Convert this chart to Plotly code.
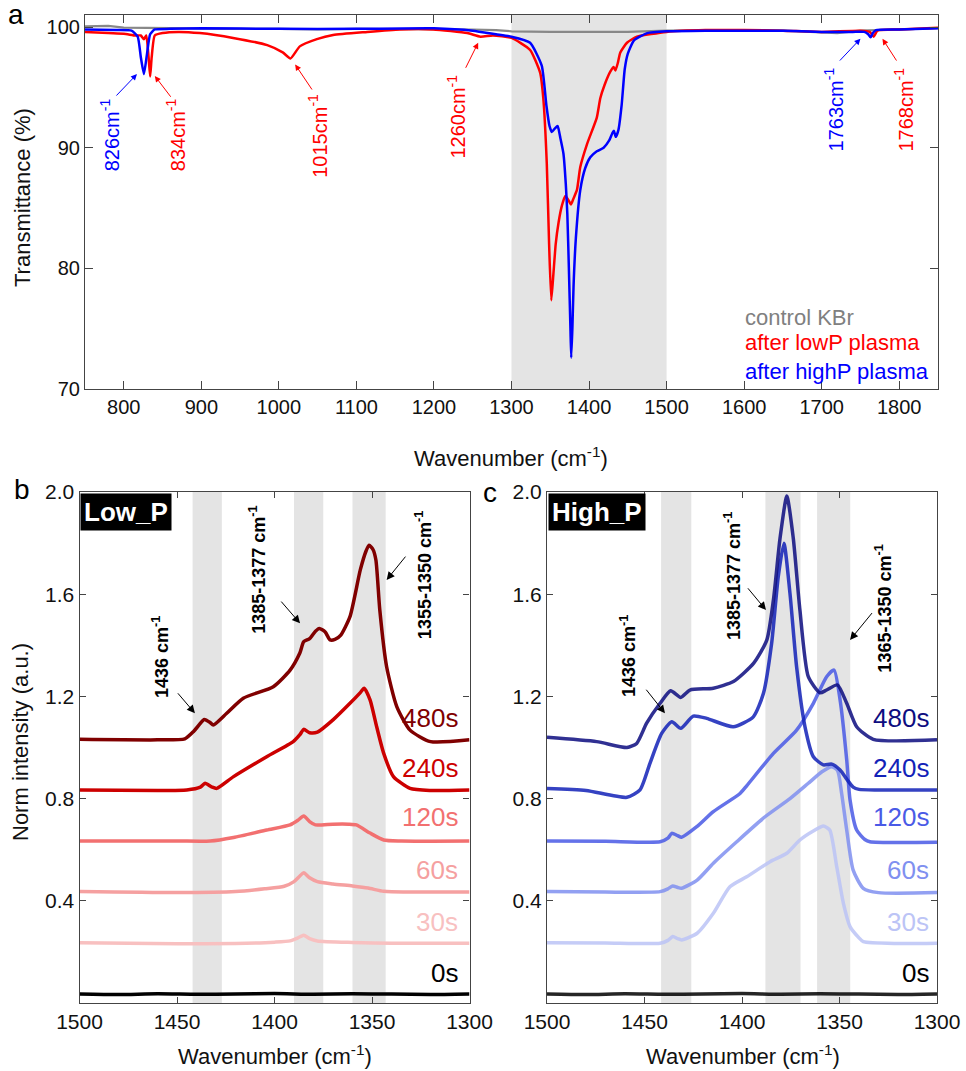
import plotly.graph_objects as go

# ---------------- Panel a data (wavenumber cm-1, transmittance %) ----------------
gray_x = [750, 780, 800, 850, 900, 950, 1000, 1050, 1100, 1150, 1200, 1250, 1280, 1300, 1350,
          1400, 1450, 1500, 1550, 1600, 1650, 1700, 1720, 1750, 1800, 1850]
gray_y = [100.05, 100.1, 99.95, 99.9, 99.9, 99.85, 99.85, 99.8, 99.85, 99.85, 99.85, 99.8, 99.75,
          99.65, 99.6, 99.62, 99.6, 99.7, 99.75, 99.75, 99.7, 99.55, 99.5, 99.7, 99.8, 99.9]

red_x = [750, 780, 800, 815, 822, 826, 829, 832, 834, 836, 840, 850, 870, 898, 941, 985, 1005,
         1015, 1027, 1049, 1070, 1114, 1156, 1199, 1243, 1260, 1276, 1300, 1324, 1337, 1341,
         1345.5, 1348.5, 1351.3, 1354, 1357, 1360.7, 1365, 1369.4, 1373, 1376.7, 1380, 1384.4,
         1388.7, 1397.4, 1410, 1414.5, 1420, 1427.4, 1431.7, 1434, 1437, 1440.3, 1448.9, 1461.8,
         1500, 1550, 1600, 1650, 1700, 1750, 1762, 1767, 1772, 1800, 1850]
red_y = [99.6, 99.5, 99.45, 99.3, 99.3, 99.0, 99.3, 97.5, 95.9, 97.5, 99.3, 99.5, 99.6, 99.5,
         99.1, 98.5, 97.9, 97.4, 98.4, 99.0, 99.35, 99.6, 99.8, 99.8, 99.5, 99.2, 99.3, 99.1,
         98.1, 96.2, 94.1, 88.7, 82.0, 77.35, 79.5, 82.0, 83.8, 85.2, 86.0, 85.7, 85.3, 85.8,
         86.5, 88.4, 90.3, 92.5, 94.1, 95.2, 96.3, 96.7, 96.4, 97.0, 97.9, 98.7, 99.2, 99.6,
         99.75, 99.75, 99.7, 99.6, 99.7, 99.6, 99.2, 99.7, 99.8, 99.95]

blue_x = [750, 790, 810, 818, 822, 826, 830, 834, 840, 860, 900, 1000, 1100, 1200, 1250, 1280,
          1300, 1324, 1339, 1345, 1349, 1352, 1356, 1359.5, 1363, 1367, 1370, 1372, 1374, 1376,
          1377, 1378.5, 1380, 1383, 1388.7, 1395, 1401.6, 1410, 1418.8, 1426, 1430, 1432, 1434.5,
          1438, 1442, 1446, 1450, 1458, 1475, 1500, 1550, 1600, 1650, 1700, 1740, 1755, 1760,
          1763, 1766, 1770, 1800, 1850]
blue_y = [99.8, 99.75, 99.7, 99.2, 97.5, 96.1, 97.8, 99.4, 99.8, 99.85, 99.9, 99.85, 99.85,
          99.9, 99.7, 99.4, 99.2, 98.7, 96.8, 93.5, 91.8, 91.3, 91.6, 91.8, 90.8, 89.5, 87.0,
          84.5, 80.0, 75.0, 72.6, 75.0, 78.5, 82.5, 86.5, 88.3, 89.2, 89.7, 90.0, 90.6, 91.2,
          91.4, 90.9, 91.5, 93.5, 96.5, 97.8, 98.9, 99.5, 99.65, 99.7, 99.7, 99.7, 99.6, 99.6,
          99.6, 99.4, 99.15, 99.5, 99.75, 99.8, 99.9]

# ---------------- Panel b data (Low_P) ----------------
zero_x = [1500, 1480, 1460, 1440, 1420, 1400, 1380, 1360, 1340, 1320, 1300]
zero_y = [0.035, 0.033, 0.036, 0.034, 0.035, 0.037, 0.034, 0.036, 0.035, 0.033, 0.035]

b30_x = [1500, 1450, 1420, 1400, 1392, 1388, 1385, 1382, 1378, 1360, 1340, 1300]
b30_y = [0.236, 0.232, 0.233, 0.238, 0.243, 0.255, 0.265, 0.252, 0.243, 0.237, 0.234, 0.234]

b60_x = [1500, 1450, 1420, 1405, 1395, 1390, 1387, 1385, 1382, 1378, 1370, 1360, 1352, 1344,
         1330, 1300]
b60_y = [0.436, 0.432, 0.436, 0.447, 0.457, 0.475, 0.497, 0.51, 0.49, 0.475, 0.466, 0.458,
         0.45, 0.437, 0.434, 0.434]

b120_x = [1500, 1450, 1433, 1421, 1404, 1392, 1388, 1385, 1382, 1379, 1370, 1362, 1358, 1351,
          1344, 1335, 1300]
b120_y = [0.634, 0.634, 0.634, 0.648, 0.677, 0.697, 0.715, 0.732, 0.71, 0.697, 0.70, 0.70,
          0.697, 0.665, 0.638, 0.634, 0.634]

b240_x = [1500, 1460, 1445, 1438, 1435.6, 1432, 1429.6, 1421, 1404, 1390.4, 1387, 1385, 1382,
          1378, 1370, 1361.3, 1356, 1354, 1351, 1347.6, 1344, 1339, 1330.5, 1320, 1300]
b240_y = [0.834, 0.832, 0.834, 0.845, 0.86, 0.845, 0.84, 0.886, 0.964, 1.023, 1.05, 1.071,
          1.058, 1.06, 1.108, 1.173, 1.215, 1.232, 1.186, 1.081, 0.977, 0.886, 0.84, 0.832, 0.834]

b480_x = [1500, 1460, 1446, 1441.6, 1438, 1436, 1433, 1431.4, 1424.5, 1416, 1400.6, 1392, 1387,
          1385, 1382, 1379, 1377, 1374, 1371.5, 1369, 1366, 1361.3, 1356, 1353, 1351.5, 1349.5,
          1348, 1346, 1342.5, 1337.3, 1330.5, 1320, 1300]
b480_y = [1.032, 1.03, 1.034, 1.062, 1.095, 1.11, 1.098, 1.088, 1.134, 1.193, 1.238, 1.303,
          1.37, 1.414, 1.426, 1.455, 1.466, 1.452, 1.421, 1.423, 1.44, 1.512, 1.695, 1.77, 1.792,
          1.775, 1.734, 1.538, 1.316, 1.16, 1.068, 1.023, 1.03]

# ---------------- Panel c data (High_P) ----------------
c30_x = [1500, 1470, 1442, 1438, 1435.5, 1433, 1431, 1423, 1414.7, 1406.2, 1397.6, 1385.6, 1377,
         1370.3, 1363, 1358.3, 1355, 1351.4, 1348, 1344.6, 1340, 1337.8, 1320, 1300]
c30_y = [0.236, 0.235, 0.234, 0.245, 0.26, 0.252, 0.247, 0.273, 0.351, 0.455, 0.494, 0.553,
         0.586, 0.638, 0.675, 0.693, 0.677, 0.533, 0.39, 0.299, 0.255, 0.24, 0.233, 0.234]

c60_x = [1500, 1470, 1442, 1438, 1435.5, 1433, 1431, 1423, 1414.7, 1402.7, 1388, 1375.4, 1366,
         1359, 1354, 1351, 1348.9, 1346.3, 1343, 1337.8, 1330, 1300]
c60_y = [0.436, 0.434, 0.436, 0.447, 0.458, 0.452, 0.449, 0.481, 0.547, 0.631, 0.73, 0.80,
         0.86, 0.905, 0.925, 0.91, 0.82, 0.677, 0.52, 0.449, 0.432, 0.432]

c120_x = [1500, 1470, 1442, 1438, 1436, 1433, 1431, 1423.2, 1414.7, 1401, 1397.6, 1383.9, 1372,
          1363.4, 1356.6, 1352.8, 1349.7, 1346.3, 1344.6, 1341.2, 1337, 1334.4, 1300]
c120_y = [0.634, 0.633, 0.631, 0.645, 0.664, 0.655, 0.649, 0.69, 0.749, 0.82, 0.85, 0.977,
          1.068, 1.173, 1.277, 1.303, 1.186, 0.951, 0.795, 0.677, 0.64, 0.631, 0.629]

c240_x = [1500, 1480, 1459, 1452.3, 1447.2, 1441.2, 1436, 1431.4, 1425, 1418.1, 1404.5, 1394.2,
          1389, 1384.8, 1381.4, 1378.5, 1375.4, 1372, 1367.7, 1363.4, 1358.3, 1354, 1349.7, 1346,
          1343, 1340, 1330, 1300]
c240_y = [0.84, 0.832, 0.805, 0.834, 0.938, 1.055, 1.101, 1.075, 1.123, 1.114, 1.081, 1.12,
          1.212, 1.408, 1.669, 1.799, 1.603, 1.316, 1.081, 0.964, 0.932, 0.935, 0.912, 0.873,
          0.845, 0.836, 0.834, 0.834]

c480_x = [1500, 1474.5, 1459, 1454, 1448.9, 1442, 1436.6, 1431.4, 1426.7, 1414.7, 1404.4, 1394,
          1387.3, 1383.9, 1380.5, 1377, 1373.7, 1370.3, 1366, 1360, 1356.6, 1351.1, 1346.3,
          1341.2, 1332.7, 1300]
c480_y = [1.04, 1.023, 1.0, 1.016, 1.095, 1.173, 1.222, 1.196, 1.225, 1.232, 1.258, 1.33, 1.42,
          1.577, 1.819, 1.984, 1.819, 1.538, 1.277, 1.214, 1.225, 1.245, 1.173, 1.081, 1.032,
          1.03]

time_labels = ["0s", "30s", "60s", "120s", "240s", "480s"]
label_vals = [0.117, 0.317, 0.52, 0.728, 0.92, 1.115]
low_colors = ["#000000", "#f8c0c0", "#f5a0a0", "#f27070", "#cc0000", "#800000"]
high_colors = ["#000000", "#bcc4f6", "#8090f0", "#4a5ae6", "#1222b8", "#0d0d80"]

bands_b = [(1442, 1427), (1390, 1375), (1360, 1343)]
bands_c = [(1441.5, 1426), (1388, 1370), (1361.5, 1344.5)]

FONT = "Liberation Sans, Arial, sans-serif"

fig = go.Figure()

# panel a traces
fig.add_trace(go.Scatter(x=gray_x, y=gray_y, mode="lines", line=dict(color="#888888", width=2.2),
                         xaxis="x", yaxis="y", showlegend=False))
fig.add_trace(go.Scatter(x=red_x, y=red_y, mode="lines",
                         line=dict(color="#ff0000", width=2.5, shape="spline", smoothing=0.5),
                         xaxis="x", yaxis="y", showlegend=False))
fig.add_trace(go.Scatter(x=blue_x, y=blue_y, mode="lines",
                         line=dict(color="#0000ff", width=2.5, shape="spline", smoothing=0.5),
                         xaxis="x", yaxis="y", showlegend=False))

low_series = [(zero_x, zero_y), (b30_x, b30_y), (b60_x, b60_y), (b120_x, b120_y),
              (b240_x, b240_y), (b480_x, b480_y)]
high_series = [(zero_x, zero_y), (c30_x, c30_y), (c60_x, c60_y), (c120_x, c120_y),
               (c240_x, c240_y), (c480_x, c480_y)]

for (xs, ys), col in zip(low_series, low_colors):
    fig.add_trace(go.Scatter(x=xs, y=ys, mode="lines",
                             line=dict(color=col, width=3.5, shape="spline", smoothing=0.6),
                             xaxis="x2", yaxis="y2", showlegend=False))
for (xs, ys), col in zip(high_series, high_colors):
    fig.add_trace(go.Scatter(x=xs, y=ys, mode="lines", opacity=0.85,
                             line=dict(color=col, width=3.5, shape="spline", smoothing=0.6),
                             xaxis="x3", yaxis="y3", showlegend=False))

shapes = [dict(type="rect", xref="x", yref="y domain", x0=1300, x1=1500, y0=0, y1=1,
               fillcolor="#e4e4e4", line=dict(width=0), layer="below")]
for a, b in bands_b:
    shapes.append(dict(type="rect", xref="x2", yref="y2 domain", x0=a, x1=b, y0=0, y1=1,
                       fillcolor="#e4e4e4", line=dict(width=0), layer="below"))
for a, b in bands_c:
    shapes.append(dict(type="rect", xref="x3", yref="y3 domain", x0=a, x1=b, y0=0, y1=1,
                       fillcolor="#e4e4e4", line=dict(width=0), layer="below"))

ann = []

# panel a peak labels
peak_labels = [("826cm<sup>-1</sup>", "#0000ff", 782, 91.1, 817, 96.1, 788.7, 94.2),
               ("834cm<sup>-1</sup>", "#ff0000", 867, 91.1, 840, 95.95, 862, 94.1),
               ("1015cm<sup>-1</sup>", "#ff0000", 1050.6, 91.0, 1021, 96.9, 1044, 94.7),
               ("1260cm<sup>-1</sup>", "#ff0000", 1228.7, 92.6, 1257, 98.7, 1240, 96.5),
               ("1763cm<sup>-1</sup>", "#0000ff", 1715, 93.2, 1750, 99.03, 1721.6, 97.1),
               ("1768cm<sup>-1</sup>", "#ff0000", 1805.5, 93.2, 1778.4, 99.03, 1797.7, 97.1)]
for txt, col, tx, ty, hx, hy, sx, sy in peak_labels:
    ann.append(dict(xref="x", yref="y", x=tx, y=ty, text=txt, textangle=-90, showarrow=False,
                    xanchor="center", yanchor="middle",
                    font=dict(family=FONT, size=20, color=col)))
    ann.append(dict(xref="x", yref="y", x=hx, y=hy, ax=sx, ay=sy, axref="x", ayref="y", text="",
                    showarrow=True, arrowhead=2, arrowsize=1.2, arrowwidth=1, arrowcolor=col))

# panel a legend text
for txt, col, yp in [("control KBr", "#808080", 317), ("after lowP plasma", "#ff0000", 343),
                     ("after highP plasma", "#0000ff", 371)]:
    ann.append(dict(xref="paper", yref="paper", x=743 / 966, y=1 - yp / 1071, xanchor="left",
                    yanchor="middle", text=txt, showarrow=False,
                    font=dict(family=FONT, size=22, color=col)))

# panels b/c band labels and arrows
band_labels_b = [("1436 cm<sup>-1</sup>", 1458.7, 1.354, 1440.8, 1.134, 1450.2, 1.218),
                 ("1385-1377 cm<sup>-1</sup>", 1408.5, 1.695, 1386.9, 1.486, 1397.2, 1.577),
                 ("1355-1350 cm<sup>-1</sup>", 1323.8, 1.675, 1342.5, 1.656, 1332.2, 1.753)]
band_labels_c = [("1436 cm<sup>-1</sup>", 1458.3, 1.359, 1439.5, 1.134, 1449.7, 1.232),
                 ("1385-1377 cm<sup>-1</sup>", 1404.5, 1.672, 1387.7, 1.538, 1397.6, 1.629),
                 ("1365-1350 cm<sup>-1</sup>", 1327.5, 1.545, 1344.6, 1.421, 1332.7, 1.532)]
for labels, xr, yr in [(band_labels_b, "x2", "y2"), (band_labels_c, "x3", "y3")]:
    for txt, tx, ty, hx, hy, sx, sy in labels:
        ann.append(dict(xref=xr, yref=yr, x=tx, y=ty, text="<b>" + txt + "</b>", textangle=-90,
                        xanchor="center", yanchor="middle",
                        showarrow=False, font=dict(family=FONT, size=18, color="black")))
        ann.append(dict(xref=xr, yref=yr, x=hx, y=hy, ax=sx, ay=sy, axref=xr, ayref=yr, text="",
                        showarrow=True, arrowhead=2, arrowsize=1.6, arrowwidth=1,
                        arrowcolor="black"))

# time labels
for lab, yv, cl, ch in zip(time_labels, label_vals, low_colors, high_colors):
    ann.append(dict(xref="x2", yref="y2", x=1305, y=yv, text=lab, xanchor="right",
                    yanchor="middle", showarrow=False, font=dict(family=FONT, size=26, color=cl)))
    ann.append(dict(xref="x3", yref="y3", x=1303, y=yv, text=lab, xanchor="right",
                    yanchor="middle", showarrow=False, font=dict(family=FONT, size=26, color=ch)))

# Low_P / High_P boxes
ann.append(dict(xref="paper", yref="paper", x=80 / 966, y=1 - 493 / 1071, xanchor="left",
                yanchor="top", text="<b>Low_P</b>", showarrow=False, bgcolor="black",
                borderpad=3, font=dict(family=FONT, size=26, color="white")))
ann.append(dict(xref="paper", yref="paper", x=548 / 966, y=1 - 493 / 1071, xanchor="left",
                yanchor="top", text="<b>High_P</b>", showarrow=False, bgcolor="black",
                borderpad=3, font=dict(family=FONT, size=26, color="white")))

# panel letters
for letter, px, py in [("a", 16, 15), ("b", 22, 490), ("c", 490, 493)]:
    ann.append(dict(xref="paper", yref="paper", x=px / 966, y=1 - py / 1071, text=letter,
                    xanchor="center", yanchor="middle",
                    showarrow=False, font=dict(family=FONT, size=28, color="black")))

# axis titles
ann.append(dict(xref="paper", yref="paper", x=22 / 966, y=1 - 198 / 1071, text="Transmittance (%)",
                xanchor="center", yanchor="middle",
                textangle=-90, showarrow=False, font=dict(family=FONT, size=22, color="#111")))
ann.append(dict(xref="paper", yref="paper", x=511 / 966, y=1 - 457 / 1071,
                xanchor="center", yanchor="middle",
                text="Wavenumber (cm<sup>-1</sup>)", showarrow=False,
                font=dict(family=FONT, size=22, color="#111")))
ann.append(dict(xref="paper", yref="paper", x=20 / 966, y=1 - 742 / 1071,
                xanchor="center", yanchor="middle",
                text="Norm intensity (a.u.)", textangle=-90, showarrow=False,
                font=dict(family=FONT, size=22, color="#111")))
for cx in (275, 743):
    ann.append(dict(xref="paper", yref="paper", x=cx / 966, y=1 - 1055 / 1071,
                    xanchor="center", yanchor="middle",
                    text="Wavenumber (cm<sup>-1</sup>)", showarrow=False,
                    font=dict(family=FONT, size=22, color="#111")))

axis_common = dict(showline=True, linecolor="#444", linewidth=1.2, mirror="ticks",
                   ticks="inside", tickcolor="#444", showgrid=False, zeroline=False,
                   automargin=False)

fig.update_layout(
    template="none",
    width=966, height=1071, margin=dict(l=0, r=0, t=0, b=0, pad=0, autoexpand=False),
    autosize=False,
    paper_bgcolor="white", plot_bgcolor="white",
    font=dict(family=FONT, color="#111"),
    xaxis=dict(domain=[85 / 966, 938 / 966], range=[750, 1850],
               tickvals=[800, 900, 1000, 1100, 1200, 1300, 1400, 1500, 1600, 1700, 1800],
               ticklen=8, tickfont=dict(size=20), anchor="y", **axis_common),
    yaxis=dict(domain=[1 - 389 / 1071, 1 - 15 / 1071], range=[70, 101], tickvals=[70, 80, 90, 100],
               ticklen=8, tickfont=dict(size=20), anchor="x", **axis_common),
    xaxis2=dict(domain=[79.5 / 966, 469.5 / 966], range=[1500, 1300],
                tickvals=[1500, 1450, 1400, 1350, 1300], ticklen=6, tickfont=dict(size=21),
                anchor="y2", **axis_common),
    yaxis2=dict(domain=[1 - 1003 / 1071, 1 - 492 / 1071], range=[0, 2.0],
                tickvals=[0.4, 0.8, 1.2, 1.6, 2.0], tickformat=".1f", ticklen=6,
                tickfont=dict(size=21), anchor="x2", **axis_common),
    xaxis3=dict(domain=[547 / 966, 937 / 966], range=[1500, 1300],
                tickvals=[1500, 1450, 1400, 1350, 1300], ticklen=6, tickfont=dict(size=21),
                anchor="y3", **axis_common),
    yaxis3=dict(domain=[1 - 1003 / 1071, 1 - 492 / 1071], range=[0, 2.0],
                tickvals=[0.4, 0.8, 1.2, 1.6, 2.0], tickformat=".1f", ticklen=6,
                tickfont=dict(size=21), anchor="x3", **axis_common),
    shapes=shapes, annotations=ann,
)

fig.write_html("out.html")
